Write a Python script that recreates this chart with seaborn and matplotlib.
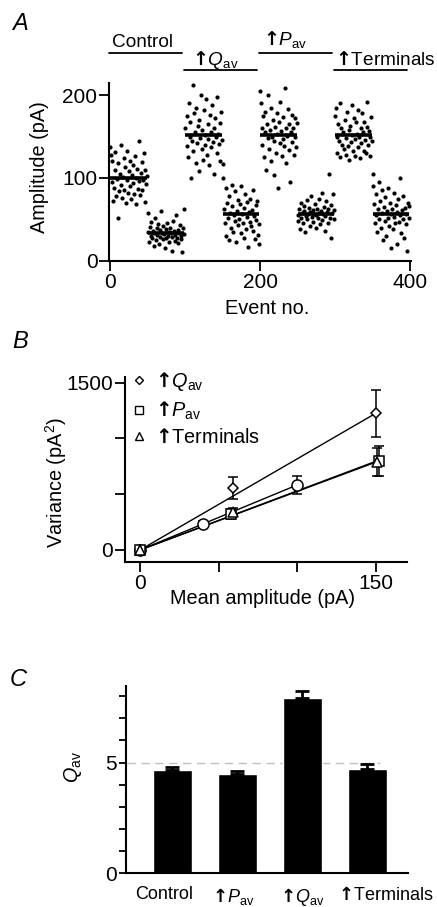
import numpy as np
import pandas as pd
import matplotlib
matplotlib.use("Agg")
import matplotlib.pyplot as plt
import matplotlib.transforms as mtransforms
import seaborn as sns
from matplotlib.lines import Line2D

# ---------------- Panel A data: amplitudes (pA) of successive events ----------------
ctrl_high = [137, 128, 95, 120, 72, 88, 110, 131, 78, 99, 52, 118, 84, 105, 140, 92, 76, 101, 124, 86,
             113, 70, 97, 133, 82, 108, 90, 121, 74, 103, 94, 116, 80, 126, 69, 100, 111, 87, 145, 96,
             79, 106, 119, 85, 98, 130, 71, 109, 93, 102]
ctrl_low = [58, 35, 22, 41, 30, 47, 28, 36, 18, 33, 52, 25, 39, 31, 44, 20, 37, 29, 60, 34,
            26, 42, 32, 15, 38, 27, 45, 30, 35, 23, 40, 33, 12, 29, 48, 36, 24, 31, 55, 28,
            37, 21, 34, 43, 26, 30, 10, 39, 32, 62]
qav_high = [160, 222, 138, 175, 125, 190, 150, 168, 100, 145, 212, 132, 178, 155, 118, 185, 142, 163, 108, 170,
            148, 200, 135, 158, 122, 182, 152, 140, 195, 128, 165, 147, 115, 176, 156, 137, 188, 143, 160, 105,
            172, 150, 130, 198, 153, 141, 166, 120, 180, 146]
qav_low = [100, 117, 62, 45, 88, 30, 70, 52, 25, 78, 58, 40, 92, 66, 35, 55, 48, 84, 22, 60,
           73, 43, 50, 68, 33, 90, 57, 46, 28, 64, 80, 38, 53, 71, 17, 59, 47, 75, 42, 61,
           36, 86, 54, 26, 67, 49, 72, 31, 44, 20]
pav_high = [205, 190, 160, 140, 175, 125, 155, 180, 110, 165, 148, 200, 135, 158, 120, 185, 150, 170, 103, 145,
            162, 130, 178, 153, 88, 168, 142, 192, 157, 127, 173, 147, 138, 208, 160, 118, 151, 183, 134, 165,
            95, 155, 176, 143, 160, 128, 172, 149, 137, 166]
pav_low = [55, 48, 62, 38, 70, 52, 58, 45, 66, 60, 35, 54, 73, 50, 57, 64, 42, 59, 78, 53,
           47, 61, 56, 68, 40, 55, 63, 51, 75, 58, 44, 60, 82, 49, 57, 65, 36, 54, 72, 59,
           46, 62, 105, 52, 67, 27, 58, 80, 50, 61]
term_high = [175, 185, 150, 130, 165, 145, 190, 125, 160, 140, 218, 155, 135, 170, 128, 148, 180, 138, 158, 122,
             163, 143, 188, 152, 132, 172, 147, 127, 167, 153, 137, 182, 150, 124, 160, 142, 178, 155, 133, 168,
             146, 130, 162, 192, 140, 157, 126, 150, 173, 145]
term_low = [105, 90, 68, 45, 80, 55, 35, 62, 95, 50, 72, 40, 58, 85, 25, 65, 48, 77, 30, 60,
            52, 88, 42, 70, 15, 57, 63, 38, 82, 53, 45, 67, 20, 59, 74, 47, 55, 100, 33, 61,
            50, 78, 28, 64, 44, 56, 12, 70, 52, 66]
group_means = [100, 34, 152, 56, 152, 57, 152, 57]
condition_names = ["Control", "$\\mathbf{↑}$$Q_{\\rm av}$", "$\\mathbf{↑}$$P_{\\rm av}$", "$\\mathbf{↑}$Terminals"]

# ---------------- Panel B data: variance vs mean amplitude ----------------
ctrl_mean = [0, 40, 100]
ctrl_var = [0, 233, 583]
ctrl_err = [0, 25, 78]
qav_mean = [0, 59, 150]
qav_var = [0, 553, 1225]
qav_err = [0, 100, 210]
pav_mean = [0, 58, 152]
pav_var = [0, 320, 801]
pav_err = [0, 45, 135]
term_mean = [0, 59, 151]
term_var = [0, 345, 792]
term_err = [0, 35, 125]
fit_slopes = [5.83, 8.17, 5.30, 5.25]        # Control, Qav, Pav, Terminals (pA)
fit_xmax = [100, 150, 152, 151]

# ---------------- Panel C data: Qav ----------------
c_labels = ["Control", "$\\mathbf{↑}$$P_{\\rm av}$", "$\\mathbf{↑}$$Q_{\\rm av}$", "$\\mathbf{↑}$Terminals"]
c_values = [4.67, 4.47, 7.93, 4.71]
c_errors = [0.15, 0.14, 0.32, 0.23]
c_reference = 5.0

# ---------------- style ----------------
sns.set_theme(style="ticks")
plt.rcParams["font.family"] = ["Liberation Sans", "DejaVu Sans"]
plt.rcParams["mathtext.fontset"] = "custom"
plt.rcParams["mathtext.rm"] = "Liberation Sans"
plt.rcParams["mathtext.it"] = "Liberation Sans:italic"
plt.rcParams["mathtext.bf"] = "DejaVu Sans:bold"
plt.rcParams["mathtext.fallback"] = "stixsans"
FS = 14.3
FS_TICK = 15
plt.rcParams.update({
    "font.size": FS, "axes.labelsize": FS, "xtick.labelsize": FS_TICK, "ytick.labelsize": FS_TICK,
    "axes.linewidth": 1.5, "xtick.major.width": 1.3, "ytick.major.width": 1.3,
    "xtick.major.size": 7, "ytick.major.size": 7, "xtick.major.pad": 1.5, "ytick.major.pad": 1.5,
    "xtick.color": "black", "ytick.color": "black", "axes.edgecolor": "black",
    "text.color": "black", "axes.labelcolor": "black",
})

W, H = 437, 907
fig = plt.figure(figsize=(W / 100, H / 100), dpi=100)


def axes_px(l, r, t, b):
    return fig.add_axes([l / W, 1 - b / H, (r - l) / W, (b - t) / H])


# ================= Panel A =================
axA = axes_px(109.25, 410.75, 82.7, 260.7)
groups = [ctrl_high, ctrl_low, qav_high, qav_low, pav_high, pav_low, term_high, term_low]
amps = np.concatenate([np.asarray(g, float) for g in groups])
dfA = pd.DataFrame({"event": np.arange(len(amps)), "amplitude": amps})
sns.scatterplot(data=dfA, x="event", y="amplitude", color="black", s=9, linewidth=0, ax=axA)
start = 0
for g, m in zip(groups, group_means):
    axA.plot([start, start + len(g) - 1], [m, m], color="black", lw=2.6, solid_capstyle="butt")
    start += len(g)
axA.set_xlim(-1, 401)
axA.set_ylim(0, 215)
axA.set_xticks([0, 200, 400])
axA.set_yticks([0, 100, 200])
sns.despine(ax=axA)
axA.set_xlabel("Event no.")
axA.set_ylabel("Amplitude (pA)")
axA.xaxis.set_label_coords(0.523, -0.215)
axA.yaxis.set_label_coords(-0.2, 0.526)
# condition bars above the data
bar_y = [251, 230, 251, 230]
text_y = [263, 242, 267, 242]
text_dx = [3, 10, 4, 0]
for i, name in enumerate(condition_names):
    x0 = i * 100
    axA.plot([x0 - 1, x0 + 96], [bar_y[i], bar_y[i]], color="black", lw=1.3, clip_on=False)
    axA.text(x0 + text_dx[i], text_y[i], name, ha="left", va="center", fontsize=13.7, clip_on=False)
fig.text(20 / W, 1 - 23 / H, "A", fontsize=17, style="italic", ha="center", va="center")

# ================= Panel B =================
axB = axes_px(125.1, 407.1, 376.6, 561.7)
xs = np.array([0.0, 1.0])
for slope, xm in zip(fit_slopes, fit_xmax):
    dfl = pd.DataFrame({"x": xs * xm, "y": xs * xm * slope})
    sns.lineplot(data=dfl, x="x", y="y", color="black", lw=1.0, ax=axB)
series = [
    (ctrl_mean, ctrl_var, ctrl_err, "o", 8.0),
    (qav_mean, qav_var, qav_err, "D", 5.5),
    (pav_mean, pav_var, pav_err, "s", 7.0),
    (term_mean, term_var, term_err, "^", 7.0),
]
for mx, vy, er, mk, ms in series:
    axB.errorbar(mx, vy, yerr=er, fmt=mk, ms=ms, mfc="white", mec="black", mew=1.1,
                 ecolor="black", elinewidth=1.1, capsize=3.5, capthick=1.1, zorder=3)
axB.set_xlim(-9.5, 170)
axB.set_ylim(-105, 1555)
axB.set_xticks([0, 50, 100, 150])
axB.set_xticklabels(["0", "", "", "150"])
axB.set_yticks([0, 500, 1000, 1500])
axB.set_yticklabels(["0", "", "", "1500"])
sns.despine(ax=axB)
axB.set_xlabel("Mean amplitude (pA)")
axB.set_ylabel("Variance (pA$^2$)")
axB.xaxis.set_label_coords(0.489, -0.145)
axB.yaxis.set_label_coords(-0.2, 0.43)
handles = [
    Line2D([], [], marker="D", ls="none", ms=4, mfc="white", mec="black", mew=1.0),
    Line2D([], [], marker="s", ls="none", ms=6, mfc="white", mec="black", mew=1.0),
    Line2D([], [], marker="^", ls="none", ms=6, mfc="white", mec="black", mew=1.0),
]
leg_labels = ["$\\mathbf{↑}$$Q_{\\rm av}$", "$\\mathbf{↑}$$P_{\\rm av}$", "$\\mathbf{↑}$Terminals"]
axB.legend(handles, leg_labels, loc="upper left", bbox_to_anchor=(0.02, 1.035), frameon=False,
           handlelength=0.8, handletextpad=0.4, labelspacing=0.32, borderaxespad=0, borderpad=0,
           fontsize=FS)
fig.text(20 / W, 1 - 341 / H, "B", fontsize=17, style="italic", ha="center", va="center")

# ================= Panel C =================
axC = axes_px(126, 408, 686, 873.3)
dfC = pd.DataFrame({"cond": c_labels, "qav": c_values})
sns.barplot(data=dfC, x="cond", y="qav", color="black", width=0.6, errorbar=None,
            saturation=1, ax=axC, zorder=2)
axC.errorbar(np.arange(len(c_values)), c_values, yerr=[np.zeros(len(c_errors)), c_errors],
             fmt="none", ecolor="black", elinewidth=2.0, capsize=5, capthick=2.0, zorder=3)
axC.plot([-0.7, 3.2], [c_reference, c_reference], color="#c0c0c0", lw=1.0, ls=(0, (6, 4)), zorder=1)
axC.set_xlim(-0.708, 3.63)
axC.set_ylim(0, 8.46)
axC.set_yticks(range(0, 9))
axC.set_yticklabels(["0", "", "", "", "", "5", "", "", ""])
axC.tick_params(axis="x", length=0, pad=9, labelsize=13)
axC.tick_params(axis="y", length=5)
label_dx_px = [-8, -4, 0, 19]
for lab, dx in zip(axC.get_xticklabels(), label_dx_px):
    lab.set_transform(lab.get_transform() + mtransforms.ScaledTranslation(dx / 100, 0, fig.dpi_scale_trans))
sns.despine(ax=axC)
axC.set_xlabel("")
axC.set_ylabel("$Q_{\\rm av}$")
axC.yaxis.set_label_coords(-0.15, 0.567)
fig.text(18 / W, 1 - 680 / H, "C", fontsize=17, style="italic", ha="center", va="center")

fig.savefig("out.png", dpi=100)
